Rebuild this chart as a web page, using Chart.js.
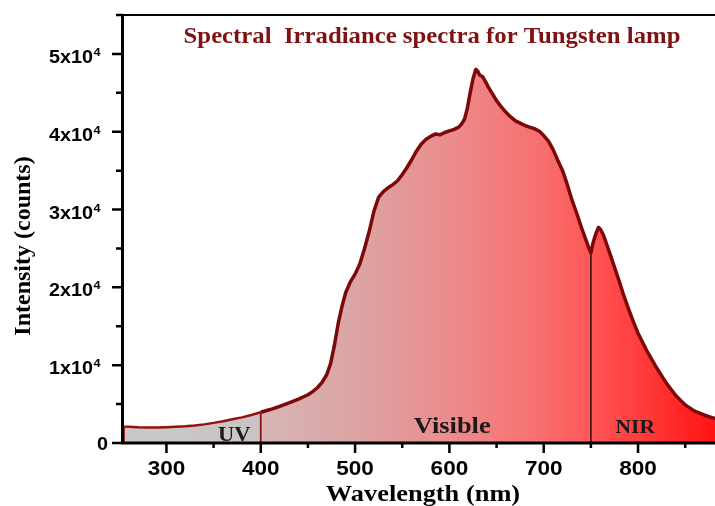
<!DOCTYPE html>
<html>
<head>
<meta charset="utf-8">
<title>Spectral Irradiance spectra for Tungsten lamp</title>
<script src="https://cdn.jsdelivr.net/npm/chart.js@4.4.0/dist/chart.umd.min.js"></script>
<style>
  html, body { margin: 0; padding: 0; background: #fff; }
  canvas { display: block; }
</style>
</head>
<body>
<canvas id="spectrum" width="715" height="506"></canvas>
<script>
// spectrum (nm / counts)
var wavelengths = [255, 260, 270, 280, 290, 300, 310, 320, 330, 340, 350, 360, 370, 380, 390, 400,
  410, 420, 430, 440, 450, 455, 460, 465, 470, 474, 478, 482, 486, 490, 495, 500, 505, 510, 515,
  520, 525, 530, 535, 540, 545, 550, 555, 560, 565, 570, 575, 580, 585, 590, 595, 600, 605, 610,
  613, 616, 619, 622, 625, 628, 630, 632, 635, 638, 641, 645, 650, 655, 660, 665, 670, 675, 680,
  685, 690, 695, 700, 705, 710, 715, 720, 725, 730, 735, 740, 745, 748, 750, 752, 755, 758, 760,
  763, 766, 770, 775, 780, 785, 790, 795, 800, 810, 820, 830, 840, 850, 860, 870, 880, 882];
var intensity = [2100, 2080, 2020, 2000, 2000, 2030, 2080, 2150, 2250, 2400, 2580, 2800, 3050, 3300, 3600, 3950,
  4300, 4700, 5150, 5650, 6200, 6600, 7100, 7800, 8800, 10200, 12500, 15300, 17500, 19300, 20700, 21700, 23000, 25000, 27200,
  29800, 31600, 32300, 32800, 33200, 33700, 34500, 35400, 36400, 37500, 38400, 39000, 39400, 39700, 39600, 39900, 40100, 40300, 40600,
  41000, 41600, 43000, 45000, 46800, 48000, 47800, 47300, 47100, 46500, 45800, 45000, 44000, 43200, 42500, 41900, 41400, 41100, 40800,
  40600, 40400, 40100, 39500, 38800, 37700, 36300, 35000, 33200, 31200, 29500, 27700, 26000, 25000, 24400, 25600, 26800, 27700, 27500,
  26800, 25800, 24400, 22600, 20800, 18900, 17200, 15600, 14100, 11700, 9600, 7700, 6100, 4900, 4100, 3600, 3200, 3150];

var xTicks = [300, 400, 500, 600, 700, 800];
var yTicks = [0, 10000, 20000, 30000, 40000, 50000];
var yTickLabels = ['0', '1x10^4', '2x10^4', '3x10^4', '4x10^4', '5x10^4'];
var boundaries = [255, 400, 750];
var regionNames = ['UV', 'Visible', 'NIR'];

// where the region names sit (nm, counts) and their size
var regionLabelPos = [[372, 260, 20.5], [603, 1290, 24], [797, 1290, 19.5]];

var SANS = '"Liberation Sans", Arial, sans-serif';
var SERIF = '"Liberation Serif", "Times New Roman", serif';
var STRETCH = 1.1;

function valueAt(nm) {
  return intensity[wavelengths.indexOf(nm)];
}

function fillGradient(chart) {
  var area = chart.chartArea;
  var xs = chart.scales.x;
  var g = chart.ctx.createLinearGradient(area.left, 0, area.right, 0);
  var w = area.right - area.left;
  function stop(nm, color) {
    var f = (xs.getPixelForValue(nm) - area.left) / w;
    g.addColorStop(Math.min(1, Math.max(0, f)), color);
  }
  stop(255, '#c9c9c9');
  stop(399.5, '#cbc3c3');
  stop(400.5, '#d7b5b5');
  stop(500, '#dca4a4');
  stop(600, '#ec8c8c');
  stop(700, '#f86e6e');
  stop(750, '#ff5656');
  stop(882, '#ff1414');
  return g;
}

function drawText(ctx, text, x, y, font, align, color) {
  ctx.save();
  ctx.translate(x, y);
  ctx.scale(STRETCH, 1);
  ctx.font = font;
  ctx.textAlign = align;
  ctx.textBaseline = 'alphabetic';
  ctx.fillStyle = color;
  ctx.fillText(text, 0, 0);
  ctx.restore();
}

var axesPlugin = {
  id: 'originAxes',
  afterDatasetsDraw: function(chart) {
    var ctx = chart.ctx;
    var a = chart.chartArea;
    var xs = chart.scales.x;
    var ys = chart.scales.y;
    var v, px, py, major;

    ctx.save();
    ctx.strokeStyle = '#000';
    ctx.lineCap = 'butt';

    // frame: left, bottom, top
    ctx.lineWidth = 3;
    ctx.beginPath();
    ctx.moveTo(a.left - 1.5, a.top);
    ctx.lineTo(a.left - 1.5, a.bottom + 1.5);
    ctx.moveTo(a.left - 1.5, a.bottom);
    ctx.lineTo(a.right, a.bottom);
    ctx.stroke();
    ctx.lineWidth = 2;
    ctx.beginPath();
    ctx.moveTo(a.left - 2, a.top);
    ctx.lineTo(a.right, a.top);
    ctx.stroke();

    // y ticks (minor every 5000)
    ctx.lineWidth = 2.5;
    ctx.beginPath();
    for (v = 0; v <= ys.max; v += 5000) {
      py = ys.getPixelForValue(v);
      major = v % 10000 === 0;
      ctx.moveTo(a.left - 1, py);
      ctx.lineTo(a.left - (major ? 12 : 8), py);
    }
    // x ticks (minor every 50)
    for (v = 300; v <= xs.max; v += 50) {
      px = xs.getPixelForValue(v);
      major = v % 100 === 0;
      ctx.moveTo(px, a.bottom);
      ctx.lineTo(px, a.bottom + (major ? 10 : 5));
    }
    ctx.stroke();
    ctx.restore();

    // tick labels
    xTicks.forEach(function(t) {
      drawText(ctx, String(t), xs.getPixelForValue(t), a.bottom + 31.5, 'bold 20.5px ' + SANS, 'center', '#000');
    });
    yTicks.forEach(function(t, i) {
      var py = ys.getPixelForValue(t);
      var parts = yTickLabels[i].split('^');
      if (parts.length === 1) {
        drawText(ctx, parts[0], a.left - 16, py + 7, 'bold 18px ' + SANS, 'right', '#000');
        return;
      }
      ctx.font = 'bold 11.5px ' + SANS;
      var expW = ctx.measureText(parts[1]).width * STRETCH;
      var right = a.left - 23.5;
      drawText(ctx, parts[1], right, py + 2, 'bold 11.5px ' + SANS, 'right', '#000');
      drawText(ctx, parts[0], right - expW - 0.5, py + 9, 'bold 18px ' + SANS, 'right', '#000');
    });

    // region names
    regionNames.forEach(function(name, i) {
      var p = regionLabelPos[i];
      drawText(ctx, name, xs.getPixelForValue(p[0]), ys.getPixelForValue(p[1]),
        'bold ' + p[2] + 'px ' + SERIF, 'center', '#1a1a1a');
    });

    // titles
    drawText(ctx, 'Spectral  Irradiance spectra for Tungsten lamp', 432, 43, 'bold 22.5px ' + SERIF, 'center', '#7f1212');
    drawText(ctx, 'Wavelength (nm)', 423, 501, 'bold 24px ' + SERIF, 'center', '#000');

    ctx.save();
    ctx.translate(30, 246);
    ctx.rotate(-Math.PI / 2);
    ctx.font = 'bold 24px ' + SERIF;
    ctx.textAlign = 'center';
    ctx.fillStyle = '#000';
    ctx.fillText('Intensity (counts)', 0, 0);
    ctx.restore();
  }
};

var points = wavelengths.map(function(w, i) {
  return { x: w, y: intensity[i] };
});

var boundaryColors = ['#a01414', '#8e1414', '#4a1c1c'];
var datasets = [{
  data: points,
  order: 1,
  borderColor: '#7d0808',
  borderWidth: 3.5,
  borderJoinStyle: 'round',
  pointRadius: 0,
  tension: 0,
  fill: 'origin',
  backgroundColor: function(context) {
    var chart = context.chart;
    if (!chart.chartArea) return 'rgba(0,0,0,0)';
    return fillGradient(chart);
  },
  segment: {
    borderWidth: function(c) { return wavelengths[c.p0DataIndex] < 400 ? 2.4 : 3.5; },
    borderColor: function(c) { return wavelengths[c.p0DataIndex] < 400 ? '#961010' : '#7d0808'; }
  }
}];

boundaries.forEach(function(nm, i) {
  datasets.push({
    data: [{ x: nm, y: 0 }, { x: nm, y: valueAt(nm) }],
    order: 0,
    borderColor: boundaryColors[i],
    borderWidth: 1.8,
    pointRadius: 0,
    fill: false
  });
});

document.addEventListener('DOMContentLoaded', function() {
  var ctx = document.getElementById('spectrum').getContext('2d');
  new Chart(ctx, {
    type: 'line',
    data: { datasets: datasets },
    plugins: [axesPlugin],
    options: {
      responsive: false,
      animation: false,
      layout: { padding: { left: 124, top: 15, right: 0, bottom: 63 } },
      plugins: {
        legend: { display: false },
        tooltip: { enabled: false }
      },
      scales: {
        x: { type: 'linear', min: 255, max: 881.6, display: false },
        y: { type: 'linear', min: 0, max: 55000, display: false }
      }
    }
  });
});
</script>
</body>
</html>
